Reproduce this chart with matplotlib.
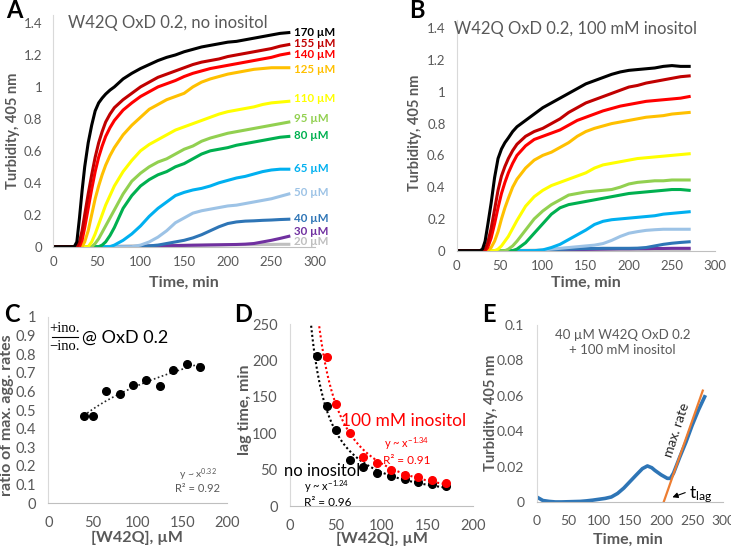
import matplotlib
matplotlib.use('Agg')
import matplotlib.pyplot as plt
import numpy as np

plt.rcParams['font.family'] = ['Lato', 'DejaVu Sans']
plt.rcParams['mathtext.default'] = 'regular'

W, H = 731, 553

# ---------------- data ----------------
conc_labels = ['20 µM', '30 µM', '40 µM', '50 µM', '65 µM', '80 µM', '95 µM',
               '110 µM', '125 µM', '140 µM', '155 µM', '170 µM']
conc_colors = ['#BFBFBF', '#7030A0', '#2E75B6', '#9DC3E6', '#00B0F0', '#00B050',
               '#92D050', '#FFFF00', '#FFC000', '#FF0000', '#C00000', '#000000']

t_grid = [0, 24, 27, 30, 33, 36, 40, 44, 48, 52, 56, 60, 65, 70, 80, 90, 100, 110,
          120, 130, 140, 150, 160, 170, 180, 190, 200, 210, 220, 230, 240, 250, 260, 270]

# Panel A: no inositol
a_20 = [0]*12 + [0.002, 0.003, 0.004, 0.005, 0.006, 0.007, 0.008, 0.008, 0.009, 0.009, 0.01, 0.01,
                 0.011, 0.011, 0.012, 0.012, 0.013, 0.013, 0.014, 0.014, 0.015, 0.015]
a_30 = [0]*17 + [0.003, 0.005, 0.006, 0.007, 0.008, 0.009, 0.01, 0.011, 0.012, 0.013, 0.014,
                 0.016, 0.02, 0.03, 0.04, 0.052, 0.065]
a_40 = [0]*17 + [0.005, 0.01, 0.02, 0.03, 0.04, 0.055, 0.075, 0.10, 0.125, 0.145, 0.155,
                 0.16, 0.162, 0.165, 0.167, 0.17, 0.172]
a_50 = [0]*16 + [0.01, 0.03, 0.06, 0.10, 0.15, 0.18, 0.21, 0.225, 0.235, 0.245, 0.255, 0.26,
                 0.27, 0.28, 0.29, 0.30, 0.315, 0.33]
a_65 = [0]*13 + [0.01, 0.04, 0.08, 0.13, 0.19, 0.24, 0.28, 0.32, 0.34, 0.355, 0.365, 0.38,
                 0.40, 0.415, 0.43, 0.44, 0.455, 0.47, 0.48, 0.485, 0.485]
a_80 = [0]*10 + [0.01, 0.03, 0.07, 0.12, 0.24, 0.32, 0.38, 0.42, 0.45, 0.47, 0.50, 0.52,
                 0.55, 0.58, 0.60, 0.61, 0.62, 0.635, 0.645, 0.655, 0.665, 0.675, 0.685, 0.69]
a_95 = [0]*8 + [0.02, 0.05, 0.09, 0.13, 0.18, 0.23, 0.33, 0.41, 0.46, 0.50, 0.53, 0.55, 0.58,
                0.61, 0.63, 0.66, 0.68, 0.695, 0.71, 0.72, 0.73, 0.74, 0.75, 0.76, 0.77, 0.78]
a_110 = [0]*7 + [0.03, 0.08, 0.14, 0.20, 0.26, 0.32, 0.38, 0.47, 0.54, 0.60, 0.64, 0.67, 0.70,
                 0.73, 0.75, 0.77, 0.79, 0.81, 0.83, 0.845, 0.855, 0.865, 0.875, 0.89, 0.90,
                 0.905, 0.91]
a_125 = [0, 0, 0, 0, 0, 0.03, 0.10, 0.20, 0.30, 0.38, 0.45, 0.51, 0.57, 0.62, 0.70, 0.76, 0.81,
         0.86, 0.89, 0.92, 0.94, 0.96, 1.00, 1.03, 1.05, 1.065, 1.08, 1.09, 1.10, 1.11, 1.115,
         1.12, 1.12, 1.12]
a_140 = [0, 0, 0, 0, 0.04, 0.12, 0.24, 0.36, 0.47, 0.56, 0.63, 0.69, 0.745, 0.79, 0.855, 0.90,
         0.94, 0.97, 1.00, 1.02, 1.04, 1.065, 1.085, 1.10, 1.115, 1.125, 1.135, 1.145, 1.155,
         1.165, 1.175, 1.185, 1.20, 1.21]
a_155 = [0, 0, 0, 0.03, 0.10, 0.20, 0.33, 0.45, 0.56, 0.65, 0.72, 0.78, 0.83, 0.87, 0.92, 0.96,
         1.00, 1.03, 1.06, 1.08, 1.10, 1.12, 1.14, 1.155, 1.165, 1.175, 1.19, 1.20, 1.21, 1.22,
         1.23, 1.24, 1.255, 1.265]
a_170 = [0, 0, 0.03, 0.18, 0.35, 0.50, 0.65, 0.76, 0.85, 0.90, 0.93, 0.955, 0.98, 1.00, 1.05,
         1.085, 1.115, 1.14, 1.165, 1.185, 1.20, 1.22, 1.235, 1.25, 1.26, 1.27, 1.28, 1.285,
         1.295, 1.305, 1.315, 1.325, 1.335, 1.34]

# Panel B: 100 mM inositol
b_20 = [0]*12 + [0.002, 0.002, 0.002, 0.003, 0.003, 0.003, 0.003, 0.003, 0.004, 0.004, 0.004,
                 0.004, 0.004, 0.004, 0.005, 0.005, 0.005, 0.005, 0.005, 0.005, 0.005, 0.005]
b_30 = [0]*17 + [0.004, 0.005, 0.006, 0.007, 0.008, 0.009, 0.01, 0.011, 0.012, 0.012, 0.013,
                 0.013, 0.014, 0.014, 0.015, 0.015, 0.015]
b_40 = [0]*17 + [0.005, 0.008, 0.01, 0.012, 0.013, 0.014, 0.015, 0.015, 0.015, 0.015, 0.016,
                 0.02, 0.03, 0.04, 0.047, 0.052, 0.056]
b_50 = [0]*16 + [0.005, 0.01, 0.015, 0.02, 0.025, 0.03, 0.035, 0.045, 0.065, 0.09, 0.11, 0.12,
                 0.128, 0.132, 0.135, 0.135, 0.135, 0.135]
b_65 = [0]*16 + [0.005, 0.02, 0.04, 0.07, 0.10, 0.13, 0.165, 0.185, 0.195, 0.20, 0.205, 0.21,
                 0.215, 0.22, 0.23, 0.235, 0.24, 0.245]
b_80 = [0]*13 + [0.01, 0.05, 0.11, 0.17, 0.23, 0.27, 0.29, 0.30, 0.31, 0.32, 0.33, 0.34, 0.35,
                 0.36, 0.365, 0.37, 0.375, 0.38, 0.385, 0.385, 0.38]
b_95 = [0]*11 + [0.01, 0.03, 0.06, 0.13, 0.20, 0.25, 0.29, 0.32, 0.35, 0.36, 0.37, 0.375, 0.38,
                 0.385, 0.40, 0.42, 0.43, 0.435, 0.44, 0.44, 0.445, 0.445, 0.445]
b_110 = [0]*8 + [0.01, 0.03, 0.06, 0.09, 0.14, 0.19, 0.28, 0.34, 0.38, 0.41, 0.43, 0.45, 0.47,
                 0.49, 0.52, 0.54, 0.55, 0.56, 0.57, 0.58, 0.585, 0.59, 0.595, 0.60, 0.605, 0.61]
b_125 = [0]*6 + [0.02, 0.06, 0.12, 0.20, 0.27, 0.33, 0.40, 0.45, 0.52, 0.57, 0.60, 0.62, 0.65,
                 0.68, 0.72, 0.75, 0.77, 0.785, 0.80, 0.81, 0.82, 0.83, 0.84, 0.845, 0.85, 0.86,
                 0.865, 0.87]
b_140 = [0, 0, 0, 0, 0, 0.02, 0.08, 0.17, 0.27, 0.36, 0.43, 0.49, 0.55, 0.60, 0.66, 0.70, 0.72,
         0.74, 0.76, 0.79, 0.82, 0.84, 0.86, 0.88, 0.895, 0.91, 0.92, 0.93, 0.94, 0.945, 0.95,
         0.955, 0.96, 0.97]
b_155 = [0, 0, 0, 0, 0.01, 0.05, 0.14, 0.26, 0.38, 0.47, 0.53, 0.58, 0.63, 0.67, 0.72, 0.75,
         0.77, 0.80, 0.83, 0.87, 0.90, 0.93, 0.95, 0.97, 0.99, 1.01, 1.03, 1.04, 1.055, 1.065,
         1.075, 1.085, 1.095, 1.10]
b_170 = [0, 0, 0, 0.01, 0.06, 0.16, 0.30, 0.46, 0.58, 0.64, 0.68, 0.71, 0.75, 0.78, 0.82, 0.86,
         0.90, 0.93, 0.96, 0.99, 1.02, 1.05, 1.07, 1.09, 1.11, 1.125, 1.135, 1.14, 1.145, 1.15,
         1.16, 1.165, 1.16, 1.16]

series_a = [a_20, a_30, a_40, a_50, a_65, a_80, a_95, a_110, a_125, a_140, a_155, a_170]
series_b = [b_20, b_30, b_40, b_50, b_65, b_80, b_95, b_110, b_125, b_140, b_155, b_170]

# Panel C
conc_c = [40, 50, 65, 80, 95, 110, 125, 140, 155, 170]
ratio_c = [0.47, 0.47, 0.60, 0.585, 0.635, 0.66, 0.63, 0.715, 0.745, 0.73]

# Panel D
conc_d_no = [30, 40, 50, 65, 80, 95, 110, 125, 140, 155, 170]
lag_no = [206, 138, 105, 63, 53, 46, 41, 37, 33, 30, 27]
conc_d_ino = [40, 50, 65, 80, 95, 110, 125, 140, 155, 170]
lag_ino = [205, 140, 100, 68, 59, 50, 43, 40, 36, 31]

# Panel E
t_e = [0, 5, 10, 20, 30, 40, 50, 60, 70, 80, 90, 100, 110, 120, 130, 140, 150, 160, 170, 178,
       185, 190, 200, 210, 215, 220, 230, 240, 250, 260, 270]
turb_e = [0.003, 0.002, 0.001, 0.0005, 0.0002, 0.0002, 0.0003, 0.0004, 0.0005, 0.0008, 0.0012,
          0.0017, 0.0022, 0.003, 0.005, 0.008, 0.0117, 0.0154, 0.019, 0.0205, 0.0195, 0.018,
          0.0155, 0.0135, 0.0135, 0.0165, 0.0255, 0.034, 0.0435, 0.052, 0.0595]
tangent_t = [204, 267]
tangent_y = [0, 0.063]

# ---------------- helpers ----------------
fig = plt.figure(figsize=(W / 100, H / 100), dpi=100)
GRAY = '#595959'


def add_axes(l, r, b, t):
    return fig.add_axes([l / W, 1 - b / H, (r - l) / W, (b - t) / H])


def fx(x):
    return x / W


def fy(y):
    return 1 - y / H


def fmt(v, p):
    return f'{v:g}'


def style(ax, xlim, ylim, xticks, yticks, fs=9.5, xpad=7, ypad=8):
    ax.set_xlim(*xlim)
    ax.set_ylim(*ylim)
    ax.set_xticks(xticks)
    ax.set_yticks(yticks)
    ax.xaxis.set_major_formatter(plt.FuncFormatter(fmt))
    ax.yaxis.set_major_formatter(plt.FuncFormatter(fmt))
    for s in ['top', 'right']:
        ax.spines[s].set_visible(False)
    ax.spines['left'].set_color('#D9D9D9')
    ax.spines['bottom'].set_color('#BFBFBF')
    ax.tick_params(length=0, labelsize=fs, colors=GRAY)
    ax.tick_params(axis='x', pad=xpad)
    ax.tick_params(axis='y', pad=ypad)
    ax.patch.set_alpha(0)


def label(x, y, s, rot=0, size=10, weight='bold', color=GRAY, **kw):
    fig.text(fx(x), fy(y), s, rotation=rot, fontsize=size, fontweight=weight, color=color,
             ha='center', va='center', **kw)


# ---------------- Panel A ----------------
axA = add_axes(53.3, 315, 246.7, 15)
for vals, col in zip(series_a, conc_colors):
    axA.plot(t_grid, vals, color=col, lw=2.2, solid_joinstyle='round')
style(axA, (0, 300), (0, 1.45), np.arange(0, 301, 50), np.arange(0, 1.41, 0.2))
label_y_a = [0.031, 0.098, 0.178, 0.339, 0.491, 0.693, 0.805, 0.925, 1.111, 1.205, 1.274, 1.343]
for lab, col, yv in zip(conc_labels, conc_colors, label_y_a):
    axA.text(276, yv, lab, color=col, fontsize=8.3, fontweight='bold', ha='left', va='center',
             clip_on=False)
fig.text(fx(68), fy(23), 'W42Q OxD 0.2, no inositol', fontsize=12, color=GRAY, ha='left',
         va='center')
label(13, 131, 'Turbidity, 405 nm', rot=90, size=10.5)
label(184, 283, 'Time, min', size=11.5)

# ---------------- Panel B ----------------
axB = add_axes(456.7, 715, 250.7, 20.3)
for vals, col in zip(series_b, conc_colors):
    axB.plot(t_grid, vals, color=col, lw=2.2, solid_joinstyle='round')
style(axB, (0, 300), (0, 1.45), np.arange(0, 301, 50), np.arange(0, 1.41, 0.2))
fig.text(fx(576), fy(29), 'W42Q OxD 0.2, 100 mM inositol', fontsize=12, color=GRAY,
         ha='center', va='center')
label(415, 133, 'Turbidity, 405 nm', rot=90, size=10.5)
label(586, 283, 'Time, min', size=11.5)

# ---------------- Panel C ----------------
axC = add_axes(48.3, 226.7, 503.3, 316.7)
lx, ly = np.log(conc_c), np.log(ratio_c)
bC, aC = np.polyfit(lx, ly, 1)
xc = np.linspace(min(conc_c), max(conc_c), 100)
axC.plot(xc, np.exp(aC) * xc ** bC, color='#262626', lw=1.2, ls=(0, (1, 1.5)))
axC.plot(conc_c, ratio_c, 'o', color='black', ms=5.5)
style(axC, (0, 200), (0, 1.0), np.arange(0, 201, 50), np.arange(0, 1.01, 0.1), fs=10.5,
      xpad=9, ypad=9)
label(7, 415, 'ratio of max. agg. rates', rot=90, size=11.5)
label(137, 538, '[W42Q], µM', size=11.5)
# fraction text
fig.text(fx(65), fy(328), '+ino.', fontsize=10.5, family=['Liberation Serif'], color='black',
         ha='center', va='center')
fig.add_artist(plt.Line2D([fx(52), fx(78)], [fy(337), fy(337)], color='black', lw=0.8))
fig.text(fx(65), fy(346), '\u2212ino.', fontsize=10.5, family=['Liberation Serif'],
         color='black', ha='center', va='center')
fig.text(fx(82), fy(338), '@ OxD 0.2', fontsize=13, color='black', ha='left', va='center')
fig.text(fx(217), fy(475), r'y ~ x$^{0.32}$', fontsize=7.5, color=GRAY, ha='right',
         va='center')
fig.text(fx(220), fy(489), 'R² = 0.92', fontsize=8, color=GRAY, ha='right', va='center')

# ---------------- Panel D ----------------
axD = add_axes(290, 473.3, 506, 324.3)
for cx, ly_, col, x0 in [(conc_d_no, lag_no, 'black', 20), (conc_d_ino, lag_ino, '#FF0000', 28)]:
    bD, aD = np.polyfit(np.log(cx), np.log(ly_), 1)
    xd = np.linspace(x0, max(cx), 200)
    axD.plot(xd, np.exp(aD) * xd ** bD, color=col, lw=1.5, ls=(0, (1, 1.2)))
axD.plot(conc_d_no, lag_no, 'o', color='black', ms=5.5, zorder=3)
axD.plot(conc_d_ino, lag_ino, 'o', color='#FF0000', ms=5.5, zorder=3)
style(axD, (0, 200), (0, 250), np.arange(0, 201, 50), np.arange(0, 251, 50), fs=10.5,
      xpad=9, ypad=9)
label(245, 410, 'lag time, min', rot=90, size=11.5)
label(382, 539, '[W42Q], µM', size=11.5)
fig.text(fx(404), fy(421), '100 mM inositol', fontsize=12.5, color='#FF0000', ha='center',
         va='center')
fig.text(fx(407), fy(444), r'y ~ x$^{-1.34}$', fontsize=8, color='#FF0000', ha='center',
         va='center')
fig.text(fx(407), fy(461), 'R² = 0.91', fontsize=8.5, color='#FF0000', ha='center',
         va='center')
fig.text(fx(322), fy(471), 'no inositol', fontsize=12, color='black', ha='center',
         va='center')
fig.text(fx(327), fy(487), r'y ~ x$^{-1.24}$', fontsize=8, color='black', ha='center',
         va='center')
fig.text(fx(328), fy(502), 'R² = 0.96', fontsize=8.5, color='black', ha='center', va='center')

# ---------------- Panel E ----------------
axE = add_axes(536.7, 723.3, 502.3, 325)
axE.plot(t_e, turb_e, color='#2E75B6', lw=2.6)
axE.plot(tangent_t, tangent_y, color='#ED7D31', lw=1.6)
style(axE, (0, 300), (0, 0.1), np.arange(0, 301, 50), np.arange(0, 0.101, 0.02), fs=10,
      xpad=9, ypad=9)
axE.text(0.46, 0.98, '40 µM W42Q OxD 0.2\n+ 100 mM inositol', transform=axE.transAxes,
         fontsize=9.5, color=GRAY, ha='center', va='top', linespacing=1.3)
axE.text(226, 0.041, 'max. rate', rotation=72, fontsize=10, color='#262626', ha='center',
         va='center')
axE.annotate('', xy=(214, 0.0023), xytext=(243, 0.006),
             arrowprops=dict(arrowstyle='-|>', color='black', lw=0.8, mutation_scale=8))
axE.text(245, 0.0045, r't$_{lag}$', fontsize=12.5, color='black', ha='left', va='center')
label(491, 413, 'Turbidity, 405 nm', rot=90, size=10.5)
label(628, 540, 'Time, min', size=11.5)

# panel letters
for s, x, y in [('A', 14, 11), ('B', 417, 11), ('C', 12, 315), ('D', 243, 315), ('E', 489, 315)]:
    fig.text(fx(x), fy(y), s, fontsize=17, fontweight='bold', color='black', ha='center',
             va='center')

fig.savefig('out.png', dpi=100)
